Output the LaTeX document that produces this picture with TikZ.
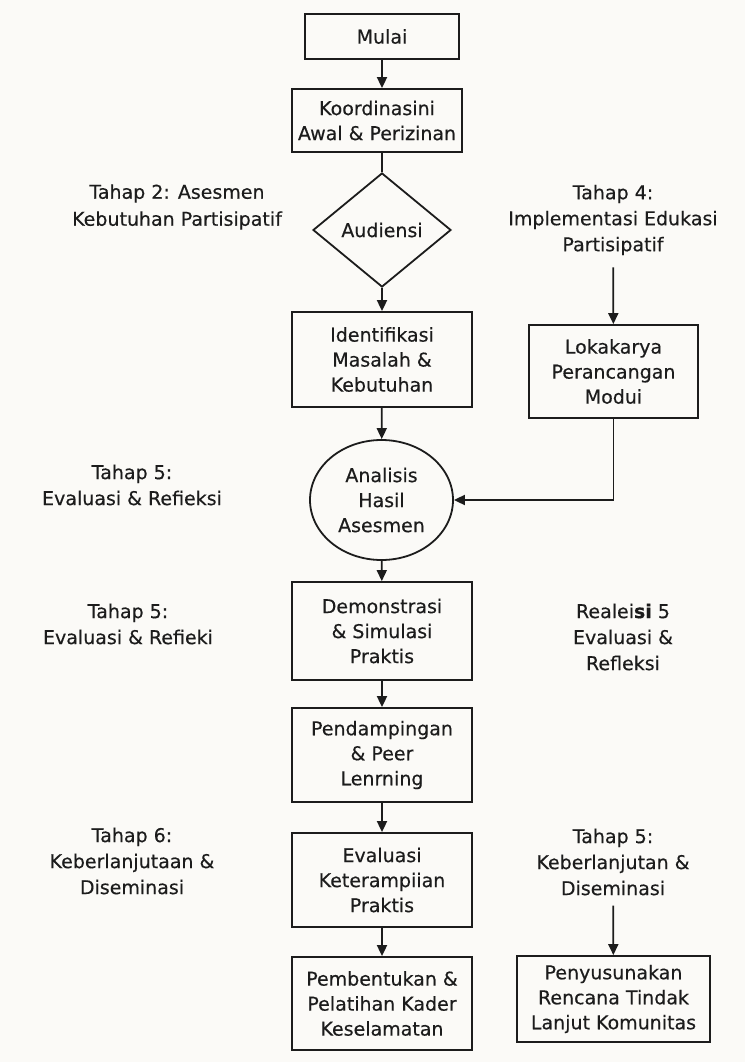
\documentclass[tikz,border=0pt]{standalone}
\usepackage{fontspec}
\setmainfont[FakeBold=0.35]{DejaVu Sans}
\usetikzlibrary{shapes.geometric,arrows.meta}
\definecolor{bg}{RGB}{251,250,247}
\definecolor{ink}{RGB}{28,28,28}
\begin{document}
\begin{tikzpicture}[x=1pt,y=-1pt,
  every node/.style={font=\fontsize{19}{25}\selectfont, text=ink},
  box/.style={draw=ink, line width=1.8pt, rectangle, align=center, inner sep=0pt},
  lbl/.style={align=center, inner sep=0pt, font=\fontsize{19}{26}\selectfont},
  arr/.style={draw=ink, line width=1.8pt, -{Triangle[width=10pt,length=11pt]}},
  ln/.style={draw=ink, line width=1.8pt}]
\fill[bg] (0,0) rectangle (745,1062);
\useasboundingbox (0,0) rectangle (745,1062);

% main column
\node[box, minimum width=154pt, minimum height=45pt] (mulai) at (382,36.5) {Mulai};
\node[box, minimum width=170pt, minimum height=63pt] (koord) at (377,120.5) {Koordinasini\\Awal \& Perizinan};
\node[draw=ink, line width=1.8pt, diamond, minimum width=138pt, minimum height=114pt, inner sep=0pt] (aud) at (382,230) {Audiensi};
\node[box, minimum width=180pt, minimum height=95pt] (ident) at (382,359.5) {Identifikasi\\Masalah \&\\Kebutuhan};
\node[draw=ink, line width=1.8pt, ellipse, minimum width=143pt, minimum height=120pt, inner sep=0pt, align=center] (ana) at (381.5,500) {Analisis\\Hasil\\Asesmen};
\node[box, minimum width=180pt, minimum height=98pt] (demo) at (382,631) {Demonstrasi\\\& Simulasi\\Praktis};
\node[box, minimum width=180pt, minimum height=94pt] (pend) at (382,755) {Pendampingan\\\& Peer\\Lenrning};
\node[box, minimum width=180pt, minimum height=94pt] (evalk) at (382,880) {Evaluasi\\Keterampiian\\Praktis};
\node[box, minimum width=180pt, minimum height=93pt] (pemb) at (382,1003.5) {Pembentukan \&\\Pelatihan Kader\\Keselamatan};

% right column
\node[box, minimum width=169pt, minimum height=93pt] (loka) at (613.5,371.5) {Lokakarya\\Perancangan\\Modui};
\node[box, minimum width=193pt, minimum height=86pt] (penyus) at (613.5,999) {Penyusunakan\\Rencana Tindak\\Lanjut Komunitas};

% labels
\node[lbl, font=\fontsize{19}{27}\selectfont] (t2) at (177,207) {Tahap 2: Asesmen\\Kebutuhan Partisipatif};
\node[lbl] (t4) at (613,220) {Tahap 4:\\Implementasi Edukasi\\Partisipatif};
\node[lbl] (t5a) at (132,485) {Tahap 5:\\Evaluasi \& Refieksi};
\node[lbl] (t5b) at (128,624) {Tahap 5:\\Evaluasi \& Refieki};
\node[lbl] (r5) at (623,637) {Realei\textbf{si} 5\\Evaluasi \&\\Refleksi};
\node[lbl] (t6) at (132,861) {Tahap 6:\\Keberlanjutaan \&\\Diseminasi};
\node[lbl] (t5c) at (613,862) {Tahap 5:\\Keberlanjutan \&\\Diseminasi};

% connectors
\draw[arr] (mulai) -- (mulai |- koord.north);
\draw[ln] (koord.south -| aud.north) -- (aud.north);
\draw[arr] (aud) -- (ident);
\draw[arr] (ident) -- (ana);
\draw[arr] (ana) -- (demo);
\draw[arr] (demo) -- (pend);
\draw[arr] (pend) -- (evalk);
\draw[arr] (evalk) -- (pemb);
\draw[arr] (loka.south) |- (ana.east);
\draw[arr, shorten <=12pt] (t4) -- (loka);
\draw[arr, shorten <=10pt] (t5c) -- (penyus);
\end{tikzpicture}
\end{document}
